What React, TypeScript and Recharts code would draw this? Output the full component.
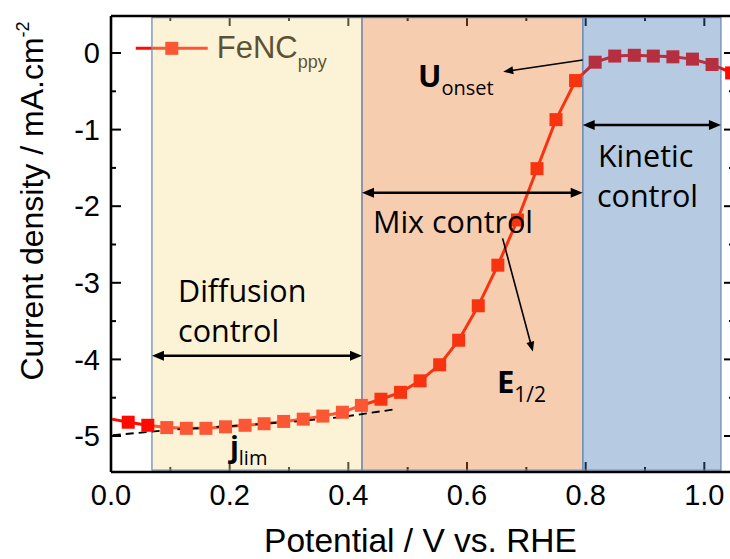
import React from 'react';
import { LineChart, Line, XAxis, YAxis, ReferenceArea, ReferenceLine, ReferenceDot, Label } from 'recharts';

// ---- data ----
const potentials = [0.002, 0.029, 0.062, 0.094, 0.127, 0.160, 0.193, 0.226, 0.258, 0.291, 0.324, 0.357, 0.390, 0.422, 0.455, 0.488, 0.521, 0.554, 0.586, 0.619, 0.652, 0.685, 0.718, 0.750, 0.783, 0.816, 0.849, 0.882, 0.914, 0.947, 0.980, 1.013, 1.046];
const currents = [-4.78, -4.82, -4.86, -4.89, -4.90, -4.90, -4.88, -4.86, -4.84, -4.81, -4.78, -4.74, -4.69, -4.60, -4.52, -4.43, -4.28, -4.07, -3.75, -3.30, -2.77, -2.18, -1.51, -0.87, -0.36, -0.12, -0.04, -0.03, -0.04, -0.05, -0.08, -0.15, -0.26];

const fitPotentials = [0.003, 0.099, 0.222, 0.313, 0.391, 0.453, 0.479];
const fitCurrents = [-4.99, -4.92, -4.86, -4.81, -4.75, -4.68, -4.65];

const xMajorTicks = [0, 0.2, 0.4, 0.6, 0.8, 1.0];
const xMinorTicks = [0.1, 0.3, 0.5, 0.7, 0.9];
const yMajorTicks = [0, -1, -2, -3, -4, -5];
const yMinorTicks = [-0.5, -1.5, -2.5, -3.5, -4.5];

const X_MIN = 0;
const X_MAX = 1.05;
const Y_MIN = -5.47;
const Y_MAX = 0.483;

const regionNames = ['Diffusion control', 'Mix control', 'Kinetic control'];
const regionStarts = [0.069, 0.423, 0.795];
const regionEnds = [0.423, 0.795, 1.028];
const regionColors = ['#F7DB90', '#E9782A', '#3A6EB0'];
// colour of the red series as seen through each translucent region
const regionSeriesColors = ['#FC5735', '#F73310', '#B62F41'];

const arrowStarts = [
  { x: 0.069, y: -3.952 },
  { x: 0.423, y: -1.824 },
  { x: 0.795, y: -0.94 },
];
const arrowEnds = [
  { x: 0.423, y: -3.952 },
  { x: 0.795, y: -1.824 },
  { x: 1.028, y: -0.94 },
];

const pointerStarts = [
  { x: 0.795, y: -0.091 },
  { x: 0.660, y: -2.42 },
];
const pointerEnds = [
  { x: 0.661, y: -0.244 },
  { x: 0.711, y: -3.898 },
];

const annotations = [
  { text: 'Diffusion', sub: '', x: 0.113, y: -3.247, size: 30.5, bold: false, subSize: 0, subDy: 0 },
  { text: 'control', sub: '', x: 0.113, y: -3.769, size: 30.5, bold: false, subSize: 0, subDy: 0 },
  { text: 'Mix control', sub: '', x: 0.4415, y: -2.35, size: 30.5, bold: false, subSize: 0, subDy: 0 },
  { text: 'Kinetic', sub: '', x: 0.8207, y: -1.484, size: 30.5, bold: false, subSize: 0, subDy: 0 },
  { text: 'control', sub: '', x: 0.819, y: -2.007, size: 30.5, bold: false, subSize: 0, subDy: 0 },
  { text: 'U', sub: 'onset', x: 0.5174, y: -0.448, size: 31, bold: true, subSize: 20, subDy: 8 },
  { text: 'E', sub: '1/2', x: 0.6505, y: -4.443, size: 31, bold: true, subSize: 21, subDy: 8.4 },
  { text: 'j', sub: 'lim', x: 0.2005, y: -5.27, size: 29, bold: true, subSize: 20, subDy: 8.5 },
];

const seriesName = 'FeNC';
const seriesSub = 'ppy';
const legendAnchor = { x: 0.1024, y: 0.061 };

const RED = '#FF0A00';
const FONT = '"Liberation Sans", Arial, sans-serif';
const ANNOT_FONT = '"Open Sans", sans-serif';

const chartData = potentials.map((v, i) => ({ v, j: currents[i] }));
const fitData = fitPotentials.map((v, i) => ({ v, j: fitCurrents[i] }));

const colorAt = (v: number) => {
  for (let i = 0; i < regionStarts.length; i++) {
    if (v >= regionStarts[i] && v < regionEnds[i]) return regionSeriesColors[i];
  }
  return RED;
};

// gradient stops along the line (the x scale is linear, so data fractions = pixel fractions)
const xFirst = potentials[0];
const xLast = potentials[potentials.length - 1];
const frac = (v: number) => Math.min(1, Math.max(0, (v - xFirst) / (xLast - xFirst)));
const gradientStops: { offset: number; color: string }[] = [];
{
  let prev = 0;
  let prevColor = RED;
  regionStarts.forEach((s, i) => {
    gradientStops.push({ offset: prev, color: prevColor });
    gradientStops.push({ offset: frac(s), color: prevColor });
    gradientStops.push({ offset: frac(s), color: regionSeriesColors[i] });
    prev = frac(s);
    prevColor = regionSeriesColors[i];
  });
  const lastEnd = frac(regionEnds[regionEnds.length - 1]);
  gradientStops.push({ offset: lastEnd, color: prevColor });
  gradientStops.push({ offset: lastEnd, color: RED });
  gradientStops.push({ offset: 1, color: RED });
}

// ---- shapes ----
const SquareDot = (p: any) => {
  if (p.index === 0 || p.cx == null) return <g key={`d${p.index}`} />;
  return <rect key={`d${p.index}`} x={p.cx - 6.5} y={p.cy - 6.5} width={13} height={13} fill={colorAt(p.payload.v)} />;
};

const xTickShape = (len: number) => (p: any) => {
  const x = p.x1;
  const top = Math.min(p.y1, p.y2);
  const bot = Math.max(p.y1, p.y2);
  return (
    <g>
      <line x1={x} x2={x} y1={bot} y2={bot - len} stroke="#000" strokeWidth={2} />
      <line x1={x} x2={x} y1={top} y2={top + len} stroke="#000" strokeWidth={2} />
    </g>
  );
};

const yTickShape = (len: number) => (p: any) => {
  const y = p.y1;
  const left = Math.min(p.x1, p.x2);
  const right = Math.max(p.x1, p.x2);
  return (
    <g>
      <line x1={left} x2={left + len} y1={y} y2={y} stroke="#000" strokeWidth={2} />
      <line x1={right} x2={right - len} y1={y} y2={y} stroke="#000" strokeWidth={2} />
    </g>
  );
};

const headPoints = (tx: number, ty: number, ux: number, uy: number, len: number, half: number) => {
  const bx = tx - ux * len;
  const by = ty - uy * len;
  return `${tx},${ty} ${bx - uy * half},${by + ux * half} ${bx + uy * half},${by - ux * half}`;
};

const DoubleArrow = (p: any) => {
  const { x1, y1, x2, y2 } = p;
  const dx = x2 - x1;
  const dy = y2 - y1;
  const L = Math.hypot(dx, dy) || 1;
  const ux = dx / L;
  const uy = dy / L;
  const len = 12;
  const half = 5;
  return (
    <g>
      <line x1={x1 + ux * len * 0.7} y1={y1 + uy * len * 0.7} x2={x2 - ux * len * 0.7} y2={y2 - uy * len * 0.7} stroke="#000" strokeWidth={2.6} />
      <polygon points={headPoints(x2, y2, ux, uy, len, half)} fill="#000" />
      <polygon points={headPoints(x1, y1, -ux, -uy, len, half)} fill="#000" />
    </g>
  );
};

const Pointer = (p: any) => {
  const { x1, y1, x2, y2 } = p;
  const dx = x2 - x1;
  const dy = y2 - y1;
  const L = Math.hypot(dx, dy) || 1;
  const ux = dx / L;
  const uy = dy / L;
  const len = 10;
  const half = 4;
  return (
    <g>
      <line x1={x1} y1={y1} x2={x2 - ux * len * 0.7} y2={y2 - uy * len * 0.7} stroke="#000" strokeWidth={1.6} />
      <polygon points={headPoints(x2, y2, ux, uy, len, half)} fill="#000" />
    </g>
  );
};

const makeText = (a: any) => (p: any) => (
  <text x={p.cx} y={p.cy} fontFamily={ANNOT_FONT} fontSize={a.size} fontWeight={a.bold ? 700 : 400} fill="#000">
    {a.text}
    {a.sub ? (
      <tspan fontSize={a.subSize} fontWeight={400} dy={a.subDy}>
        {a.sub}
      </tspan>
    ) : null}
  </text>
);

const LegendShape = (p: any) => {
  const { cx, cy } = p;
  return (
    <g>
      <line x1={cx - 36} x2={cx + 36} y1={cy} y2={cy} stroke={RED} strokeWidth={3} />
      <rect x={cx - 6.5} y={cy - 6.5} width={13} height={13} fill={RED} />
      <text x={cx + 45} y={cy + 10} fontFamily={FONT} fontSize={31} fill="#000">
        {seriesName}
        <tspan fontSize={18} dy={10}>
          {seriesSub}
        </tspan>
      </text>
    </g>
  );
};

const XTitle = (props: any) => {
  const vb = props.viewBox || { x: 111, y: 472, width: 623, height: 1 };
  return (
    <text x={vb.x + vb.width / 2 - 2} y={vb.y + 80} textAnchor="middle" fontFamily={FONT} fontSize={33.5} fill="#000">
      Potential / V vs. RHE
    </text>
  );
};

const YTitle = (props: any) => {
  const vb = props.viewBox || { x: 110, y: 16, width: 1, height: 456 };
  const cx = vb.x - 67;
  const cy = vb.y + 185;
  return (
    <text x={cx} y={cy} transform={`rotate(-90, ${cx}, ${cy})`} textAnchor="middle" fontFamily={FONT} fontSize={32} fill="#000">
      Current density / mA.cm
      <tspan fontSize={18} dy={-14}>
        -2
      </tspan>
    </text>
  );
};

export default function App() {
  return (
    <div style={{ position: 'absolute', left: 0, top: 0, width: 730, height: 559, overflow: 'hidden', background: '#fff' }}>
      <LineChart width={760} height={559} data={chartData} margin={{ top: 16, right: 26, bottom: 86, left: 110 }}>
        <defs>
          <linearGradient id="seriesGrad" x1="0" y1="0" x2="1" y2="0">
            {gradientStops.map((s, i) => (
              <stop key={i} offset={s.offset} stopColor={s.color} />
            ))}
          </linearGradient>
        </defs>
        <XAxis
          dataKey="v"
          type="number"
          domain={[X_MIN, X_MAX]}
          allowDataOverflow
          ticks={xMajorTicks}
          tickFormatter={(v: number) => v.toFixed(1)}
          height={1}
          tickLine={false}
          tickSize={0}
          tickMargin={12}
          axisLine={{ stroke: '#000', strokeWidth: 2.6 }}
          tick={{ fontSize: 29, fill: '#000', fontFamily: FONT }}
          interval={0}
        >
          <Label content={XTitle} />
        </XAxis>
        <YAxis
          type="number"
          domain={[Y_MIN, Y_MAX]}
          allowDataOverflow
          ticks={yMajorTicks}
          tickFormatter={(v: number) => String(v)}
          width={1}
          tickLine={false}
          tickSize={0}
          tickMargin={11}
          axisLine={{ stroke: '#000', strokeWidth: 2.6 }}
          tick={{ fontSize: 29, fill: '#000', fontFamily: FONT }}
          interval={0}
        >
          <Label content={YTitle} />
        </YAxis>

        {xMajorTicks.map((t) => (
          <ReferenceLine key={`xM${t}`} x={t} shape={xTickShape(10)} zIndex={300} />
        ))}
        {xMinorTicks.map((t) => (
          <ReferenceLine key={`xm${t}`} x={t} shape={xTickShape(5)} zIndex={300} />
        ))}
        {yMajorTicks.map((t) => (
          <ReferenceLine key={`yM${t}`} y={t} shape={yTickShape(10)} zIndex={300} />
        ))}
        {yMinorTicks.map((t) => (
          <ReferenceLine key={`ym${t}`} y={t} shape={yTickShape(5)} zIndex={300} />
        ))}

        <ReferenceDot x={legendAnchor.x} y={legendAnchor.y} r={0} shape={LegendShape} zIndex={410} />

        {regionNames.map((n, i) => (
          <ReferenceArea
            key={n}
            x1={regionStarts[i]}
            x2={regionEnds[i]}
            y1={Y_MIN + 0.025}
            y2={Y_MAX - 0.02}
            fill={regionColors[i]}
            fillOpacity={0.37}
            stroke="#6F8FB8"
            strokeWidth={1.3}
            zIndex={450}
          />
        ))}

        <Line
          type="linear"
          dataKey="j"
          name={seriesName + seriesSub}
          stroke="url(#seriesGrad)"
          strokeWidth={3}
          dot={SquareDot}
          activeDot={false}
          isAnimationActive={false}
          zIndex={460}
        />

        <ReferenceLine y={Y_MAX} stroke="#000" strokeWidth={2.6} zIndex={550} />
        <ReferenceLine x={X_MAX} stroke="#000" strokeWidth={2.6} zIndex={550} />

        <Line
          type="linear"
          data={fitData}
          dataKey="j"
          stroke="#000"
          strokeWidth={1.8}
          strokeDasharray="8 5"
          dot={false}
          activeDot={false}
          legendType="none"
          isAnimationActive={false}
          zIndex={600}
        />

        {arrowStarts.map((s, i) => (
          <ReferenceLine key={`da${i}`} segment={[s, arrowEnds[i]]} shape={DoubleArrow} zIndex={700} />
        ))}
        {pointerStarts.map((s, i) => (
          <ReferenceLine key={`pa${i}`} segment={[s, pointerEnds[i]]} shape={Pointer} zIndex={700} />
        ))}
        {annotations.map((a, i) => (
          <ReferenceDot key={`an${i}`} x={a.x} y={a.y} r={0} shape={makeText(a)} zIndex={700} />
        ))}
      </LineChart>
    </div>
  );
}
